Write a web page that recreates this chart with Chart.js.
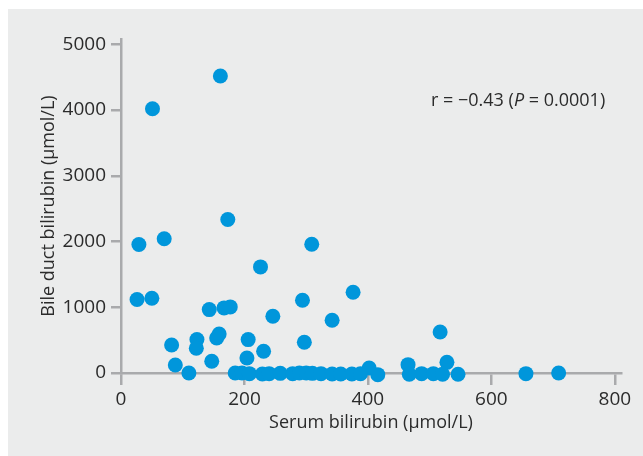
<!DOCTYPE html>
<html>
<head>
<meta charset="utf-8">
<script src="https://cdn.jsdelivr.net/npm/chart.js@4.4.0/dist/chart.umd.min.js"></script>
<style>
html, body { margin: 0; padding: 0; background: #fff; }
#wrap { width: 643px; height: 456px; }
</style>
</head>
<body>
<div id="wrap"><canvas id="myChart"></canvas></div>
<script>
// values
var serumBilirubin = [161, 51, 173, 29, 70, 309, 226, 26, 50, 376, 294, 143, 167, 177, 246, 342,
    517, 82, 123, 122, 155, 159, 206, 297, 231, 204, 147, 88, 110, 402, 465, 528,
    185, 196, 208, 229, 240, 258, 278, 289, 300, 310, 324, 342, 356, 374, 388, 416,
    467, 487, 506, 521, 546, 656, 709];
var bileDuctBilirubin = [4518, 4020, 2335, 1954, 2041, 1959, 1614, 1117, 1137, 1228, 1107, 964, 990, 1005, 863, 802,
    624, 426, 508, 376, 533, 594, 508, 467, 330, 228, 178, 122, 0, 76, 127, 162,
    0, 0, -10, -15, -10, -5, -10, 0, 0, -5, -10, -15, -15, -15, -10, -25,
    -20, -10, -10, -20, -20, -10, 0];
var xTicks = [0, 200, 400, 600, 800];
var yTicks = [0, 1000, 2000, 3000, 4000, 5000];
var xTitle = 'Serum bilirubin (µmol/L)';
var yTitle = 'Bile duct bilirubin (µmol/L)';

var FONT = "'Open Sans', sans-serif";
var axisGrey = '#a9aaac';
var textCol = '#2b2b2b';

var points = serumBilirubin.map(function(x, i) {
    return { x: x, y: bileDuctBilirubin[i] };
});

// grey panel behind the plot
var panelBg = {
    id: 'panelBg',
    beforeDraw: function(chart) {
        var c = chart.ctx;
        c.save();
        c.fillStyle = '#ebecec';
        c.fillRect(8, 9, 635, 447);
        c.restore();
    }
};

// r / P text
var corrNote = {
    id: 'corrNote',
    afterDraw: function(chart) {
        var c = chart.ctx;
        var parts = [
            ['r = \u22120.43 (', 'normal'],
            ['P', 'italic'],
            [' = 0.0001)', 'normal']
        ];
        var x = 431, y = 101;
        c.save();
        c.fillStyle = textCol;
        c.textBaseline = 'middle';
        parts.forEach(function(p) {
            c.font = p[1] + ' 18px ' + FONT;
            c.fillText(p[0], x, y);
            x += c.measureText(p[0]).width;
        });
        c.restore();
    }
};

var ctx = document.getElementById('myChart').getContext('2d');
var myChart = new Chart(ctx, {
    type: 'scatter',
    data: {
        datasets: [{
            data: points,
            backgroundColor: '#0096db',
            borderWidth: 0,
            pointRadius: 7.5,
            pointHoverRadius: 7.5,
            clip: false
        }]
    },
    options: {
        responsive: true,
        maintainAspectRatio: false,
        animation: false,
        layout: { padding: { top: 39, right: 22, left: 0, bottom: 0 } },
        plugins: {
            legend: { display: false },
            tooltip: { enabled: false }
        },
        scales: {
            x: {
                type: 'linear',
                min: 0,
                max: 810,
                afterBuildTicks: function(s) { s.ticks = xTicks.map(function(v) { return { value: v }; }); },
                afterFit: function(s) { s.height = 83; },
                grid: { drawOnChartArea: false, color: axisGrey, lineWidth: 2.5, tickLength: 12 },
                border: { color: axisGrey, width: 2.5 },
                ticks: {
                    color: textCol, font: { family: FONT, size: 19 }, padding: 3, maxRotation: 0,
                    callback: function(v) { return String(v); }
                },
                title: {
                    display: true,
                    text: xTitle,
                    color: textCol,
                    font: { family: FONT, size: 18 },
                    padding: { top: 0, bottom: 22 }
                }
            },
            y: {
                type: 'linear',
                min: 0,
                max: 5080,
                afterBuildTicks: function(s) { s.ticks = yTicks.map(function(v) { return { value: v }; }); },
                afterFit: function(s) { s.width = 121; },
                grid: { drawOnChartArea: false, color: axisGrey, lineWidth: 2.5, tickLength: 10 },
                border: { color: axisGrey, width: 2.5 },
                ticks: {
                    color: textCol, font: { family: FONT, size: 19 }, padding: 5,
                    callback: function(v) { return String(v); }
                },
                title: {
                    display: true,
                    text: yTitle,
                    color: textCol,
                    font: { family: FONT, size: 18 },
                    padding: { top: 38, bottom: 0 }
                }
            }
        }
    },
    plugins: [panelBg, corrNote]
});
</script>
</body>
</html>
